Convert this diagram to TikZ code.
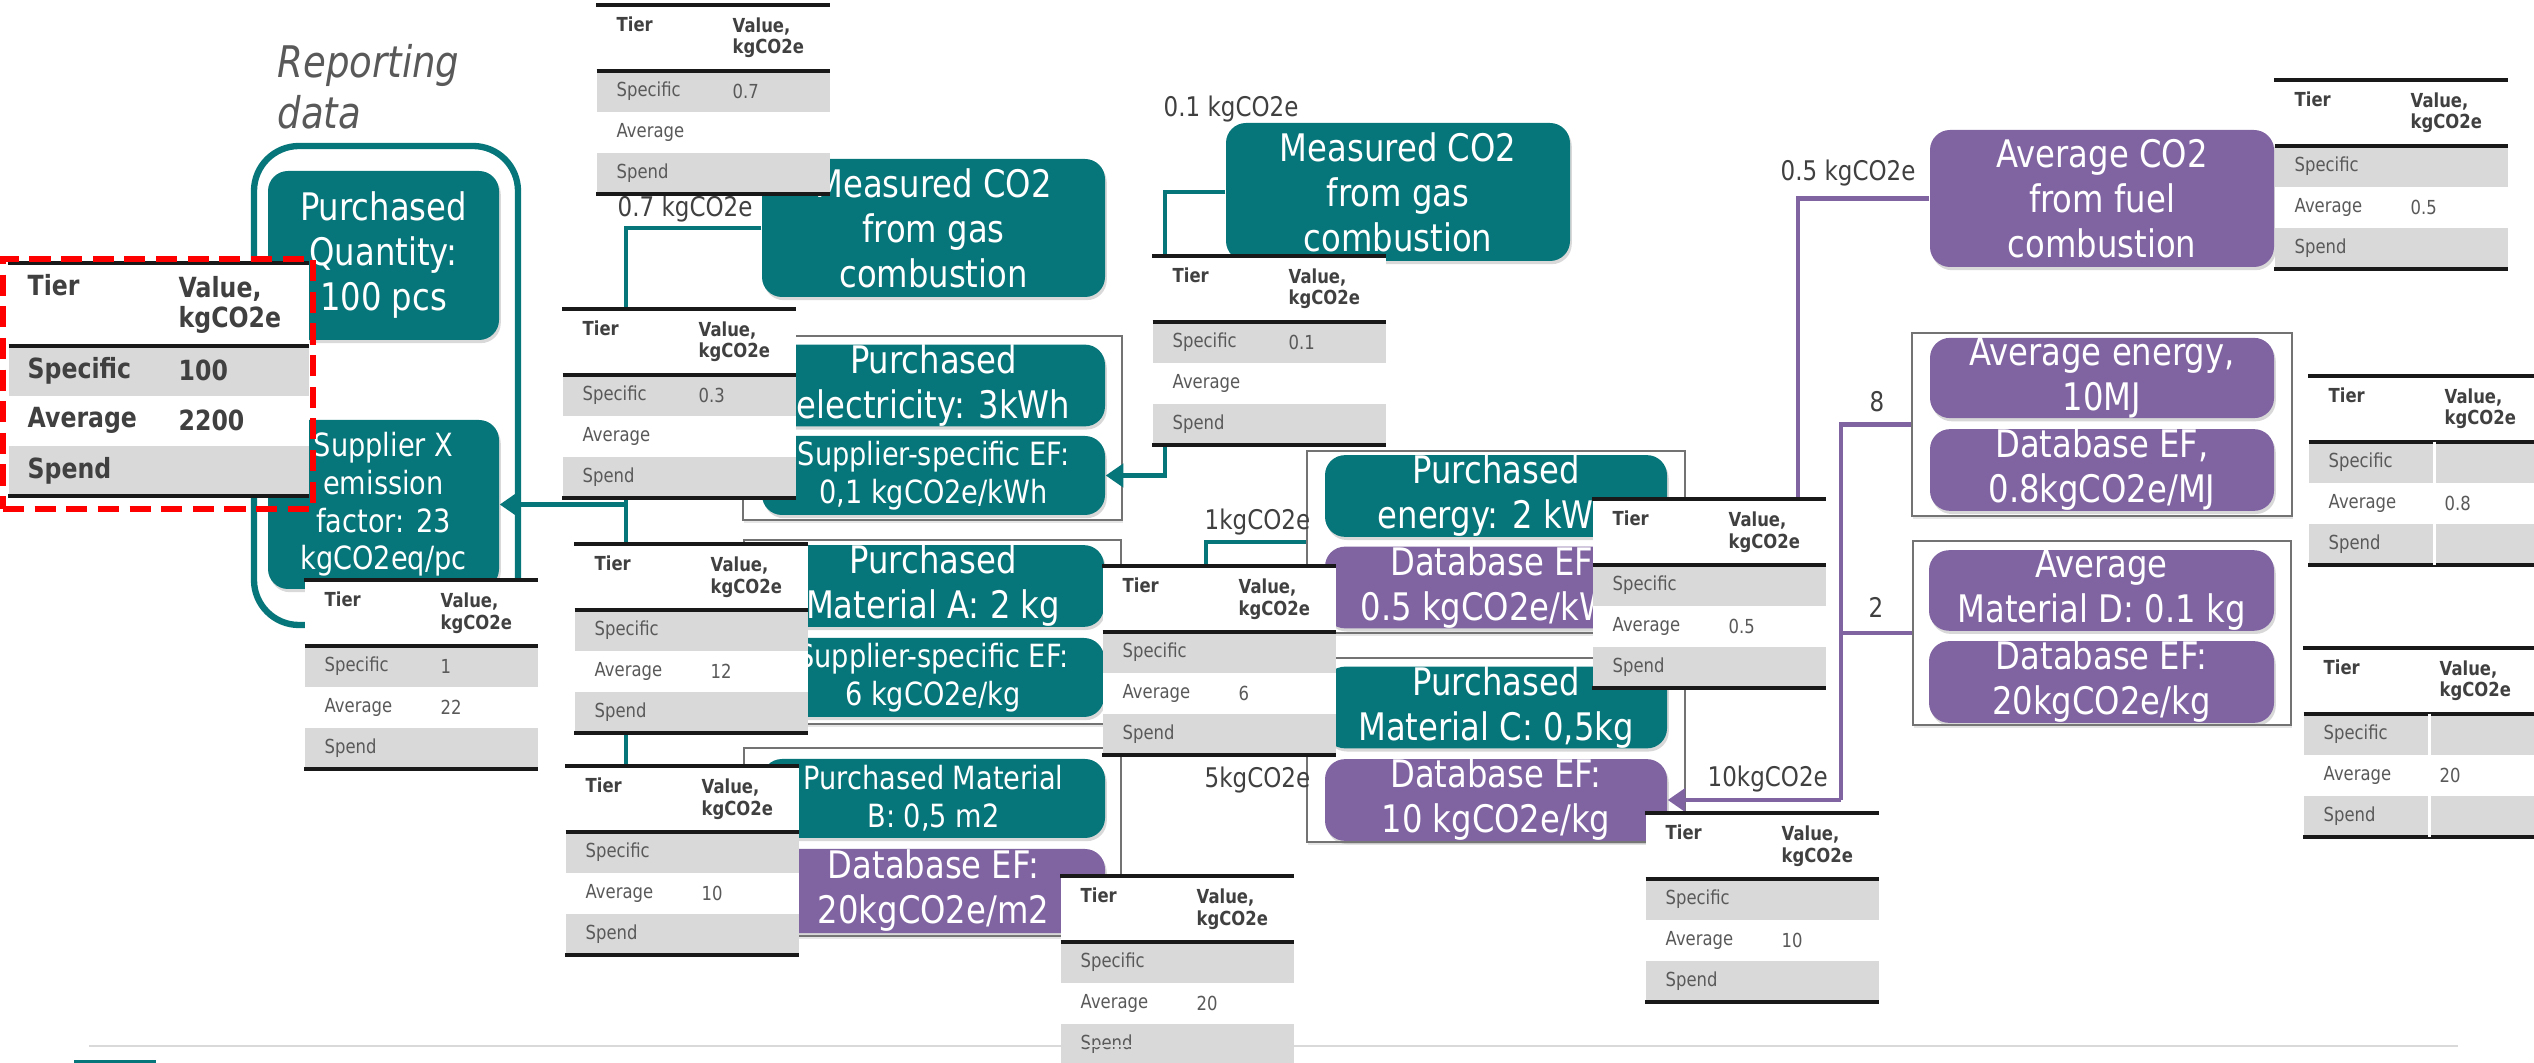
\documentclass[tikz,border=0pt]{standalone}
\usepackage{fontspec}
\setmainfont{DejaVu Sans}[FakeStretch=0.85]
\usepackage{tikz}
\usetikzlibrary{arrows.meta,positioning,matrix,shadows}

\definecolor{ghgteal}{RGB}{7,118,122}
\definecolor{ghgpurple}{RGB}{128,100,162}
\definecolor{tblgray}{RGB}{217,217,217}
\definecolor{headtext}{RGB}{64,64,64}
\definecolor{rowtext}{RGB}{89,89,89}
\definecolor{hlred}{RGB}{255,0,0}

\newcommand{\tblfont}{\fontsize{5.5}{6}\selectfont}
\newcommand{\bigtblfont}{\fontsize{7.9}{8.6}\selectfont\bfseries}
\newcommand{\boxfont}{\fontsize{10.8}{12.8}\selectfont}
\newcommand{\boxfontsm}{\fontsize{9.1}{10.7}\selectfont}

\pgfdeclarelayer{boxes}
\pgfdeclarelayer{links}
\pgfsetlayers{boxes,links,main}

\begin{document}
\begin{tikzpicture}[
    tealbox/.style={rectangle, rounded corners=0.2cm, fill=ghgteal, text=white, align=center,
      inner xsep=2pt, inner ysep=0pt, font=\boxfont,
      drop shadow={shadow xshift=0.5pt, shadow yshift=-0.9pt, opacity=0.3}},
    purpbox/.style={tealbox, fill=ghgpurple},
    small/.style={font=\boxfontsm},
    grpframe/.style={draw=black!55, line width=0.7pt, fill=white,
      drop shadow={shadow xshift=0.4pt, shadow yshift=-0.8pt, opacity=0.2}},
    repbox/.style={draw=ghgteal, line width=1.8pt, rounded corners=0.45cm},
    link/.style={draw=ghgteal, line width=1.4pt},
    plink/.style={draw=ghgpurple, line width=1.4pt},
    tip/.style={-{Triangle[length=5pt,width=6.5pt]}},
    lbl/.style={font=\fontsize{7.7}{9}\selectfont, text=headtext, inner sep=0pt, anchor=base west},
    rulethin/.style={draw=black!90, line width=0.9pt},
    rulethick/.style={draw=black!90, line width=1.1pt},
    tbase/.style={matrix of nodes, nodes in empty cells, anchor=north west, inner sep=0pt,
      fill=white, column sep=0pt, row sep=0pt,
      row 2/.style={nodes={fill=tblgray}},
      row 4/.style={nodes={fill=tblgray}}},
    tiertbl/.style={tbase,
      nodes={anchor=center, inner ysep=0pt, outer sep=0pt, minimum height=0.41cm, font=\tblfont, text=rowtext, align=left},
      column 1/.style={nodes={text width=0.86cm, inner xsep=0.2cm}},
      column 2/.style={nodes={text width=0.87cm, inner xsep=0.1cm}},
      row 1/.style={nodes={minimum height=0.65cm, font=\tblfont\bfseries, text=headtext}}},
    bigtbl/.style={tbase,
      nodes={anchor=center, inner ysep=0pt, outer sep=0pt, minimum height=0.50cm, font=\bigtblfont, text=headtext, align=left},
      column 1/.style={nodes={text width=1.24cm, inner xsep=0.19cm}},
      column 2/.style={nodes={text width=1.22cm, inner xsep=0.08cm}},
      row 1/.style={nodes={minimum height=0.82cm}}},
    reddash/.style={draw=hlred, line width=1.7pt, dash pattern=on 6pt off 3pt}
  ]
  \useasboundingbox (0,0) rectangle (25.34,-10.63);

  \begin{pgfonlayer}{boxes}
    % reporting data
    \node[repbox, minimum width=2.64cm, minimum height=4.79cm] (rep) at (3.86,-3.855) {};
    \node[font=\fontsize{12.4}{14.5}\selectfont\itshape, text=rowtext, align=left,
      inner sep=0pt, anchor=north west] (reptitle) at (2.77,-0.44) {Reporting\\data};

    % group frames
    \node[grpframe, minimum width=3.79cm, minimum height=1.84cm] (f1) at (9.325,-4.28) {};
    \node[grpframe, minimum width=3.77cm, minimum height=1.84cm] (f2) at (9.325,-6.32) {};
    \node[grpframe, minimum width=3.77cm, minimum height=1.88cm] (f7) at (9.325,-8.42) {};
    \node[grpframe, minimum width=3.78cm, minimum height=1.82cm] (f3) at (14.96,-5.42) {};
    \node[grpframe, minimum width=3.78cm, minimum height=1.84cm] (f4) at (14.96,-7.50) {};
    \node[grpframe, minimum width=3.80cm, minimum height=1.83cm] (f5) at (21.02,-4.245) {};
    \node[grpframe, minimum width=3.78cm, minimum height=1.84cm] (f6) at (21.02,-6.33) {};

    % boxes
    \node[tealbox, minimum width=2.31cm, minimum height=1.69cm] (b1) at (3.835,-2.555) {Purchased\\Quantity:\\100 pcs};
    \node[tealbox, small, minimum width=2.31cm, minimum height=1.69cm] (b2) at (3.835,-5.045) {Supplier X\\emission\\factor: 23\\kgCO2eq/pc};
    \node[tealbox, minimum width=3.43cm, minimum height=1.38cm] (b3) at (9.335,-2.28) {Measured CO2\\from gas\\combustion};
    \node[tealbox, minimum width=3.43cm, minimum height=0.79cm] (b4) at (9.335,-3.855) {Purchased\\electricity: 3kWh};
    \node[tealbox, small, minimum width=3.43cm, minimum height=0.79cm] (b5) at (9.335,-4.755) {Supplier-specific EF:\\0,1 kgCO2e/kWh};
    \node[tealbox, minimum width=3.42cm, minimum height=0.78cm] (b6) at (9.33,-5.86) {Purchased\\Material A: 2 kg};
    \node[tealbox, small, minimum width=3.42cm, minimum height=0.79cm] (b7) at (9.33,-6.775) {Supplier-specific EF:\\6 kgCO2e/kg};
    \node[tealbox, small, minimum width=3.43cm, minimum height=0.79cm] (b8) at (9.335,-7.985) {Purchased Material\\B: 0,5 m2};
    \node[purpbox, minimum width=3.43cm, minimum height=0.84cm] (b9) at (9.335,-8.91) {Database EF:\\20kgCO2e/m2};
    \node[tealbox, minimum width=3.44cm, minimum height=1.38cm] (b10) at (13.98,-1.92) {Measured CO2\\from gas\\combustion};
    \node[tealbox, minimum width=3.42cm, minimum height=0.78cm] (b11) at (14.96,-4.96) {Purchased\\energy: 2 kWh};
    \node[purpbox, minimum width=3.42cm, minimum height=0.79cm] (b12) at (14.96,-5.875) {Database EF:\\0.5 kgCO2e/kWh};
    \node[tealbox, minimum width=3.42cm, minimum height=0.79cm] (b13) at (14.96,-7.075) {Purchased\\Material C: 0,5kg};
    \node[purpbox, minimum width=3.42cm, minimum height=0.80cm] (b14) at (14.96,-8.0) {Database EF:\\10 kgCO2e/kg};
    \node[purpbox, minimum width=3.44cm, minimum height=1.37cm] (b15) at (21.02,-1.985) {Average CO2\\from fuel\\combustion};
    \node[purpbox, minimum width=3.44cm, minimum height=0.78cm] (b16) at (21.02,-3.78) {Average energy,\\10MJ};
    \node[purpbox, minimum width=3.44cm, minimum height=0.78cm] (b17) at (21.02,-4.70) {Database EF,\\0.8kgCO2e/MJ};
    \node[purpbox, minimum width=3.45cm, minimum height=0.79cm] (b18) at (21.015,-5.905) {Average\\Material D: 0.1 kg};
    \node[purpbox, minimum width=3.45cm, minimum height=0.80cm] (b19) at (21.015,-6.82) {Database EF:\\20kgCO2e/kg};
  \end{pgfonlayer}

  % tier tables
  \foreach \nm/\x/\y/\s/\a in {t1/5.96/-0.05/0.7/, t2/5.62/-3.09/0.3/, t3/3.04/-5.80/1/22,
      t4/5.74/-5.44//12, t5/5.65/-7.66//10, t6/11.02/-5.66//6, t7/10.60/-8.76//20,
      t8/11.52/-2.56/0.1/, t9/15.92/-4.99//0.5, t10/16.45/-8.13//10,
      t11/22.74/-0.80//0.5, t12/23.08/-3.76//0.8, t13/23.03/-6.48//20} {
    \matrix (\nm) [tiertbl, ampersand replacement=\&] at (\x,\y) {
      Tier\newline\strut \& Value,\newline kgCO2e \\
      Specific \& \s \\
      Average \& \a \\
      Spend \& \\
    };
    \draw[rulethin] (\nm.north west) -- (\nm.north east);
    \draw[rulethick] (\nm-1-1.south west) -- (\nm-1-2.south east);
    \draw[rulethick] (\nm.south west) -- (\nm.south east);
  }
  \foreach \nm in {t12,t13}
    \draw[white, line width=0.8pt] (\nm-2-1.north east) -- (\nm-4-1.south east);

  \begin{pgfonlayer}{links}
    \coordinate (j1) at (6.26,-2.28);
    \coordinate (j3) at (11.65,-1.92);
    \coordinate (j4) at (12.06,-5.42);
    \coordinate (j5) at (17.98,-1.985);
    \coordinate (j6) at (18.41,-4.245);

    \draw[link] (b3.west) -- (j1) -- (j1 |- t2.north);
    \draw[link] (j1 |- t2.south) -- (j1 |- t5.north);
    \draw[link, tip] (j1 |- b2.east) -- (b2.east);

    \draw[link] (b10.west) -- (j3) -- (j3 |- t8.north);
    \draw[link, tip] (j3 |- t8.south) |- (b5.east);

    \draw[link] (f3.west) -- (j4) -- (j4 |- t6.north);

    \draw[plink] (b15.west) -- (j5) -- (j5 |- t9.north);
    \draw[plink] (f5.west) -- (j6) -- (j6 |- b14.east);
    \draw[plink] (f6.west) -- (j6 |- f6.west);
    \draw[plink, tip] (j6 |- b14.east) -- (b14.east);

    \node[lbl] (l1) at (6.17,-2.17) {0.7 kgCO2e};
    \node[lbl] (l2) at (11.63,-1.17) {0.1 kgCO2e};
    \node[lbl] (l3) at (17.80,-1.81) {0.5 kgCO2e};
    \node[lbl] (l4) at (18.69,-4.12) {8};
    \node[lbl] (l5) at (18.68,-6.18) {2};
    \node[lbl] (l6) at (12.04,-5.30) {1kgCO2e};
    \node[lbl] (l7) at (12.04,-7.88) {5kgCO2e};
    \node[lbl] (l8) at (17.07,-7.87) {10kgCO2e};
  \end{pgfonlayer}

  % highlighted reporting table
  \matrix (t0) [bigtbl, ampersand replacement=\&] at (0.08,-2.63) {
    Tier\newline\strut \& Value,\newline kgCO2e \\
    Specific \& 100 \\
    Average \& 2200 \\
    Spend \& \\
  };
  \draw[rulethin] (t0.north west) -- (t0.north east);
  \draw[rulethick] (t0-1-1.south west) -- (t0-1-2.south east);
  \draw[rulethick] (t0.south west) -- (t0.south east);
  \node[reddash, minimum width=3.10cm, minimum height=2.50cm] (hl) at (1.58,-3.84) {};

  % footer
  \draw[black!15, line width=0.6pt] (0.89,-10.46) -- (24.58,-10.46);
  \draw[ghgteal, line width=1pt] (0.74,-10.62) -- (1.56,-10.62);
\end{tikzpicture}
\end{document}
